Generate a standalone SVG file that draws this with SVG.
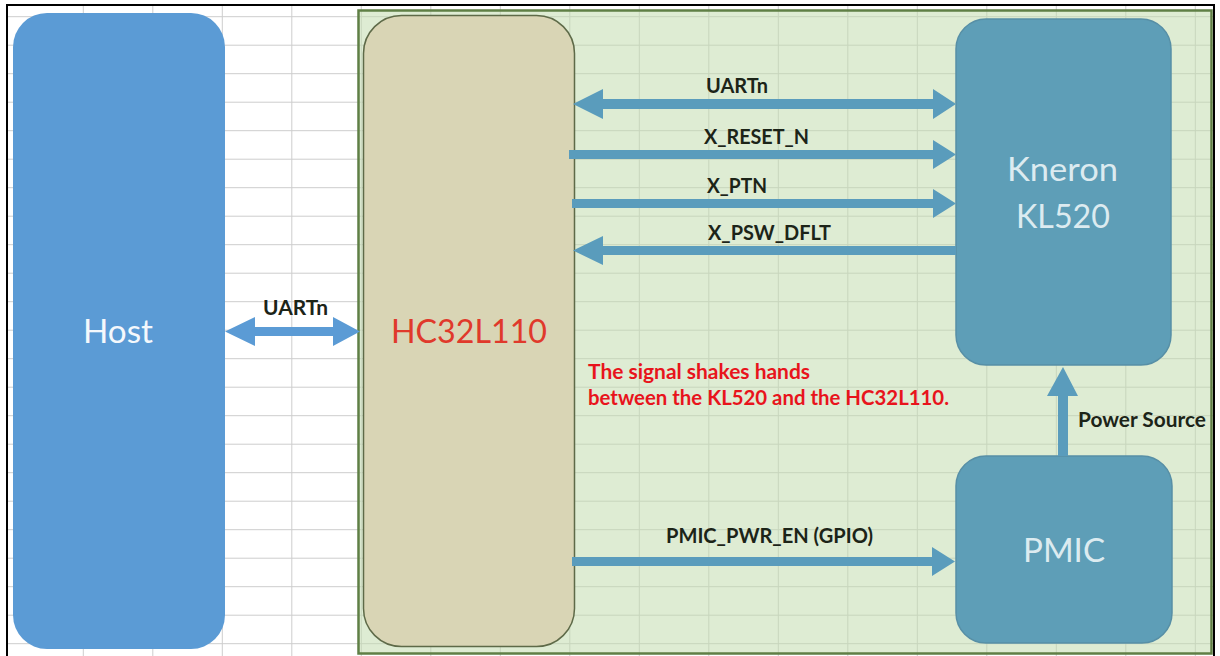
<svg xmlns="http://www.w3.org/2000/svg" width="1220" height="656" viewBox="0 0 1220 656">
<style>
.grid line{stroke:#cdcdcd;stroke-width:1}
.lbl{font-family:Lato,"Liberation Sans",sans-serif;font-weight:bold;font-size:21px;fill:#1c2418}
.big{font-family:Lato,"Liberation Sans",sans-serif;font-size:33px}
.note{font-family:Lato,"Liberation Sans",sans-serif;font-weight:bold;font-size:21px;fill:#e8141c}
.teal{fill:#5e9eb7;stroke:#578fa6;stroke-width:1.5}
.arr{fill:#5a9cbc}
</style>
<rect x="0" y="0" width="1220" height="656" fill="#ffffff"/>
<g class="grid">
<line x1="8" y1="16.7" x2="1214" y2="16.7"/><line x1="8" y1="45.2" x2="1214" y2="45.2"/><line x1="8" y1="73.7" x2="1214" y2="73.7"/><line x1="8" y1="102.2" x2="1214" y2="102.2"/><line x1="8" y1="130.7" x2="1214" y2="130.7"/><line x1="8" y1="159.2" x2="1214" y2="159.2"/><line x1="8" y1="187.7" x2="1214" y2="187.7"/><line x1="8" y1="216.2" x2="1214" y2="216.2"/><line x1="8" y1="244.7" x2="1214" y2="244.7"/><line x1="8" y1="273.2" x2="1214" y2="273.2"/><line x1="8" y1="301.7" x2="1214" y2="301.7"/><line x1="8" y1="330.2" x2="1214" y2="330.2"/><line x1="8" y1="358.7" x2="1214" y2="358.7"/><line x1="8" y1="387.2" x2="1214" y2="387.2"/><line x1="8" y1="415.7" x2="1214" y2="415.7"/><line x1="8" y1="444.2" x2="1214" y2="444.2"/><line x1="8" y1="472.7" x2="1214" y2="472.7"/><line x1="8" y1="501.2" x2="1214" y2="501.2"/><line x1="8" y1="529.7" x2="1214" y2="529.7"/><line x1="8" y1="558.2" x2="1214" y2="558.2"/><line x1="8" y1="586.7" x2="1214" y2="586.7"/><line x1="8" y1="615.2" x2="1214" y2="615.2"/><line x1="8" y1="643.7" x2="1214" y2="643.7"/>
<line x1="83.3" y1="6" x2="83.3" y2="656"/><line x1="152.8" y1="6" x2="152.8" y2="656"/><line x1="222.3" y1="6" x2="222.3" y2="656"/><line x1="291.8" y1="6" x2="291.8" y2="656"/><line x1="361.3" y1="6" x2="361.3" y2="656"/><line x1="430.8" y1="6" x2="430.8" y2="656"/><line x1="500.3" y1="6" x2="500.3" y2="656"/><line x1="569.8" y1="6" x2="569.8" y2="656"/><line x1="639.3" y1="6" x2="639.3" y2="656"/><line x1="708.8" y1="6" x2="708.8" y2="656"/><line x1="778.3" y1="6" x2="778.3" y2="656"/><line x1="847.8" y1="6" x2="847.8" y2="656"/><line x1="917.3" y1="6" x2="917.3" y2="656"/><line x1="986.8" y1="6" x2="986.8" y2="656"/><line x1="1056.3" y1="6" x2="1056.3" y2="656"/><line x1="1125.8" y1="6" x2="1125.8" y2="656"/><line x1="1195.3" y1="6" x2="1195.3" y2="656"/>
</g>
<rect x="7" y="5" width="1207" height="660" fill="none" stroke="#000" stroke-width="2"/>
<g id="container">
<rect x="358.5" y="10.5" width="853" height="643" fill="#c2dcae" fill-opacity="0.55" stroke="#5f7f45" stroke-width="2.5"/>
</g>
<g id="host">
<rect x="13" y="13" width="212" height="636" rx="34" fill="#5b9bd5"/>
<text class="big" x="83" y="343" fill="#f4f8fc" textLength="70" lengthAdjust="spacingAndGlyphs">Host</text>
</g>
<g id="hc32l110">
<rect x="363.5" y="15.5" width="211" height="631" rx="38" fill="#d9d5b5" stroke="#5e6a48" stroke-width="1.5"/>
<text class="big" x="391" y="343" fill="#e0392b" textLength="156" lengthAdjust="spacingAndGlyphs">HC32L110</text>
</g>
<g id="kl520">
<rect class="teal" x="956" y="19" width="215" height="346" rx="30"/>
<text class="big" x="1007" y="181" fill="#dcebf0" textLength="111" lengthAdjust="spacingAndGlyphs">Kneron</text>
<text class="big" x="1016" y="228" fill="#dcebf0" textLength="94" lengthAdjust="spacingAndGlyphs">KL520</text>
</g>
<g id="pmic">
<rect class="teal" x="956" y="456" width="216" height="187" rx="30"/>
<text class="big" x="1023" y="562" fill="#dcebf0" textLength="82" lengthAdjust="spacingAndGlyphs">PMIC</text>
</g>
<g id="connectors">
<path fill="#5b9bd5" d="M225,331.5 L255,317 L255,327 L333,327 L333,317 L360,331.5 L333,346 L333,336 L255,336 L255,346 Z"/>
<path class="arr" d="M573,104 L603,89 L603,99 L933,99 L933,89 L956,104 L933,119 L933,109 L603,109 L603,119 Z"/>
<path class="arr" d="M569,150 L933,150 L933,140 L956,154.5 L933,169 L933,159 L569,159 Z"/>
<path class="arr" d="M572,199 L933,199 L933,189 L956,203.5 L933,218 L933,208 L572,208 Z"/>
<path class="arr" d="M573,250.5 L603,236 L603,246 L956,246 L956,255 L603,255 L603,265 Z"/>
<path class="arr" d="M572,557 L932,557 L932,547 L955,561.5 L932,576 L932,566 L572,566 Z"/>
<path class="arr" d="M1063,367 L1078,396 L1068,396 L1068,456 L1058,456 L1058,396 L1047,396 Z"/>
<text class="lbl" x="263" y="315" textLength="65" lengthAdjust="spacingAndGlyphs">UARTn</text>
<text class="lbl" x="706" y="93" textLength="62" lengthAdjust="spacingAndGlyphs">UARTn</text>
<text class="lbl" x="704" y="144" textLength="105" lengthAdjust="spacingAndGlyphs">X_RESET_N</text>
<text class="lbl" x="707" y="193" textLength="60" lengthAdjust="spacingAndGlyphs">X_PTN</text>
<text class="lbl" x="708" y="240" textLength="123" lengthAdjust="spacingAndGlyphs">X_PSW_DFLT</text>
<text class="lbl" x="666" y="543" textLength="207" lengthAdjust="spacingAndGlyphs">PMIC_PWR_EN (GPIO)</text>
<text class="lbl" x="1078" y="427" textLength="128" lengthAdjust="spacingAndGlyphs">Power Source</text>
</g>
<g id="note">
<text class="note" x="588" y="379" textLength="222" lengthAdjust="spacingAndGlyphs">The signal shakes hands</text>
<text class="note" x="588" y="405" textLength="361" lengthAdjust="spacingAndGlyphs">between the KL520 and the HC32L110.</text>
</g>
</svg>
